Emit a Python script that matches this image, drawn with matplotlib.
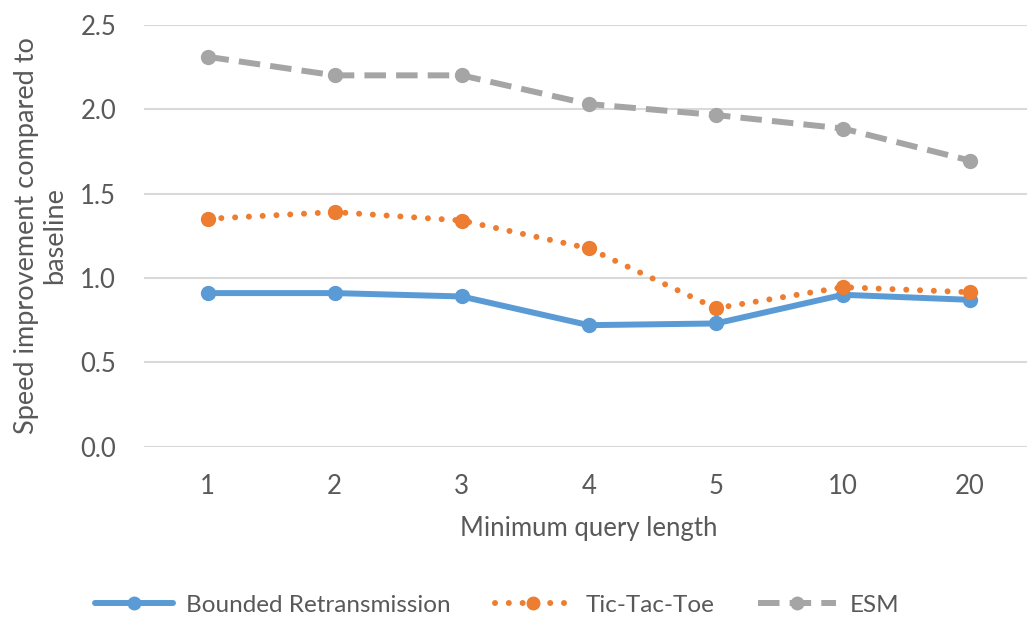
import matplotlib
matplotlib.use("Agg")
import matplotlib.pyplot as plt

# Values
lengths = ["1", "2", "3", "4", "5", "10", "20"]
bounded = [0.91, 0.91, 0.89, 0.72, 0.73, 0.90, 0.87]
tictactoe = [1.35, 1.39, 1.34, 1.175, 0.82, 0.945, 0.915]
esm = [2.31, 2.20, 2.20, 2.03, 1.965, 1.885, 1.695]

TXT = "#595959"
plt.rcParams["font.family"] = ["Lato", "DejaVu Sans"]

fig = plt.figure(figsize=(10.27, 6.21), dpi=100)
ax = fig.add_axes([0.1402, 0.2807, 0.8662, 0.6795])

x = list(range(len(lengths)))
ax.plot(x, bounded, color="#5B9BD5", lw=4.3, marker="o", ms=10,
        solid_capstyle="round", label="Bounded Retransmission", zorder=3)
ax.plot(x, tictactoe, color="#ED7D31", lw=4.3, marker="o", ms=10,
        linestyle=(0, (0.01, 2.3)), dash_capstyle="round",
        label="Tic-Tac-Toe", zorder=4)
ax.plot(x, esm, color="#A5A5A5", lw=4.3, marker="o", ms=10,
        linestyle=(0, (3.6, 1.7)), dash_capstyle="butt",
        label="ESM", zorder=3)

ax.set_xlim(-0.5, len(lengths) - 0.5)
ax.set_ylim(0, 2.5)
ax.set_yticks([0, 0.5, 1.0, 1.5, 2.0, 2.5])
ax.set_yticklabels(["0.0", "0.5", "1.0", "1.5", "2.0", "2.5"])
ax.set_xticks(x)
ax.set_xticklabels(lengths)
ax.yaxis.grid(True, color="#D9D9D9", lw=1.5)
ax.set_axisbelow(True)
for s in ax.spines.values():
  s.set_visible(False)
ax.tick_params(axis="both", length=0, labelsize=18.5, labelcolor=TXT)
ax.tick_params(axis="y", pad=20)
ax.tick_params(axis="x", pad=20)

ax.set_xlabel("Minimum query length", fontsize=18.5, color=TXT)
ax.xaxis.set_label_coords(0.5, -0.165)
ax.set_ylabel("Speed improvement compared to\nbaseline", fontsize=19.5,
              color=TXT, linespacing=1.15, va="center", multialignment="center")
ax.yaxis.set_label_coords(-0.116, 0.5)

fig.legend(loc="center", bbox_to_anchor=(0.484, 0.025), ncol=3,
           frameon=False, fontsize=17.5, labelcolor=TXT, handlelength=3.2,
           columnspacing=1.8, handletextpad=0.55, markerscale=0.9)

fig.savefig("out.png", dpi=100)
